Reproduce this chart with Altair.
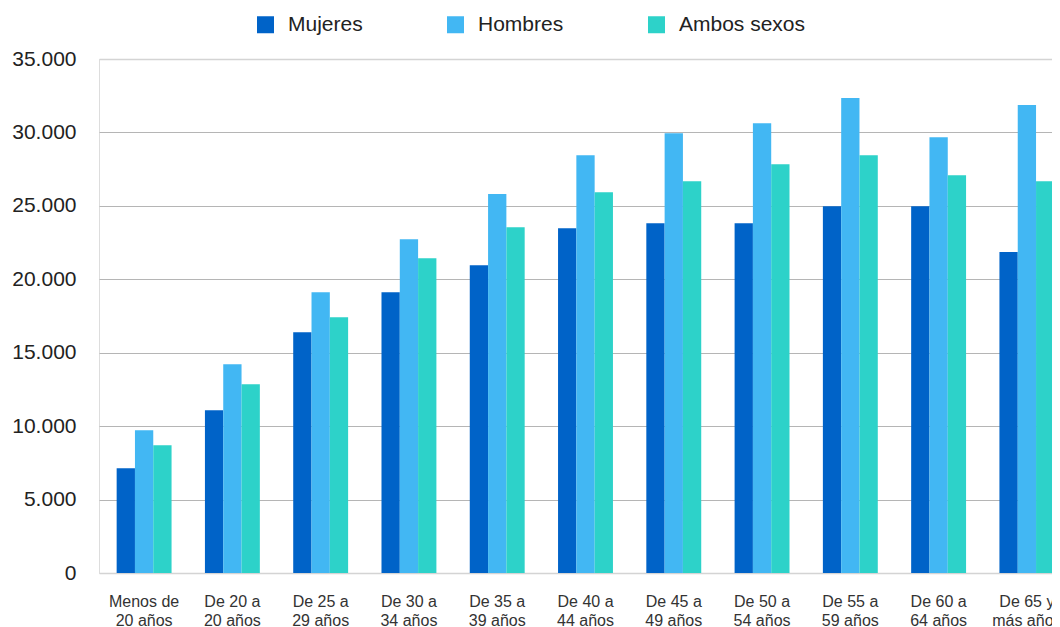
import altair as alt
import pandas as pd

categorias = ["Menos de 20 años", "De 20 a 20 años", "De 25 a 29 años", "De 30 a 34 años",
              "De 35 a 39 años", "De 40 a 44 años", "De 45 a 49 años", "De 50 a 54 años",
              "De 55 a 59 años", "De 60 a 64 años", "De 65 y más años"]
series = ["Mujeres", "Hombres", "Ambos sexos"]
mujeres = [7130, 11080, 16400, 19120, 20960, 23480, 23820, 23820, 24980, 24980, 21850]
hombres = [9720, 14220, 19120, 22730, 25800, 28450, 29950, 30630, 32340, 29680, 31860]
ambos = [8700, 12850, 17420, 21440, 23550, 25930, 26680, 27840, 28450, 27090, 26680]
colores = ["#0063C8", "#42B7F3", "#2DD2C9"]
y_ticks = [0, 5000, 10000, 15000, 20000, 25000, 30000, 35000]

rows = []
for serie, vals in zip(series, [mujeres, hombres, ambos]):
    for c, v in zip(categorias, vals):
        rows.append({"categoria": c, "serie": serie, "valor": v})
df = pd.DataFrame(rows)

FONT = "Liberation Sans"

x_label_expr = ("[join(slice(split(datum.label, ' '), 0, -2), ' '), "
                "join(slice(split(datum.label, ' '), -2), ' ')]")
y_label_expr = "datum.value == 0 ? '0' : replace(format(datum.value, ','), ',', '.')"
edge_test = "datum.value === 0 || datum.value === 35000"

chart = alt.Chart(df).mark_bar().encode(
    x=alt.X("categoria:N", sort=categorias, title=None,
            scale=alt.Scale(range=[0, 973], paddingInner=0.378),
            axis=alt.Axis(labelAngle=0, ticks=False, tickSize=0, domain=False, labelPadding=20,
                          labelFontSize=16, labelLineHeight=19, labelExpr=x_label_expr,
                          labelColor="#333333", labelFont=FONT, labelOverlap=False, grid=False)),
    xOffset=alt.XOffset("serie:N", sort=series,
                        scale=alt.Scale(paddingInner=0, paddingOuter=0)),
    y=alt.Y("valor:Q", title=None,
            scale=alt.Scale(domain=[0, 35000], nice=False),
            axis=alt.Axis(values=y_ticks, ticks=False, domain=False, labelPadding=23,
                          labelFontSize=21, labelColor="#222222", labelFont=FONT,
                          labelExpr=y_label_expr,
                          gridColor={"condition": {"test": edge_test, "value": "#d4d4d4"},
                                     "value": "#b5b5b5"},
                          gridWidth={"condition": {"test": edge_test, "value": 1.5},
                                     "value": 1})),
    color=alt.Color("serie:N", sort=series,
                    scale=alt.Scale(domain=series, range=colores),
                    legend=alt.Legend(title=None, orient="none", legendX=156, legendY=-45,
                                      direction="horizontal", symbolType="square",
                                      symbolSize=289, symbolStrokeWidth=0, labelFontSize=21,
                                      labelFont=FONT, labelColor="#222222",
                                      columnPadding=82, labelOffset=12, padding=0)),
).properties(
    width=953, height=514,
    autosize=alt.AutoSizeParams(type="none"),
    padding={"left": 91, "top": 51, "right": 0, "bottom": 54},
).configure_view(stroke=None).configure(background="white")

chart.save("out.html", embed_options={"renderer": "svg", "actions": False})
